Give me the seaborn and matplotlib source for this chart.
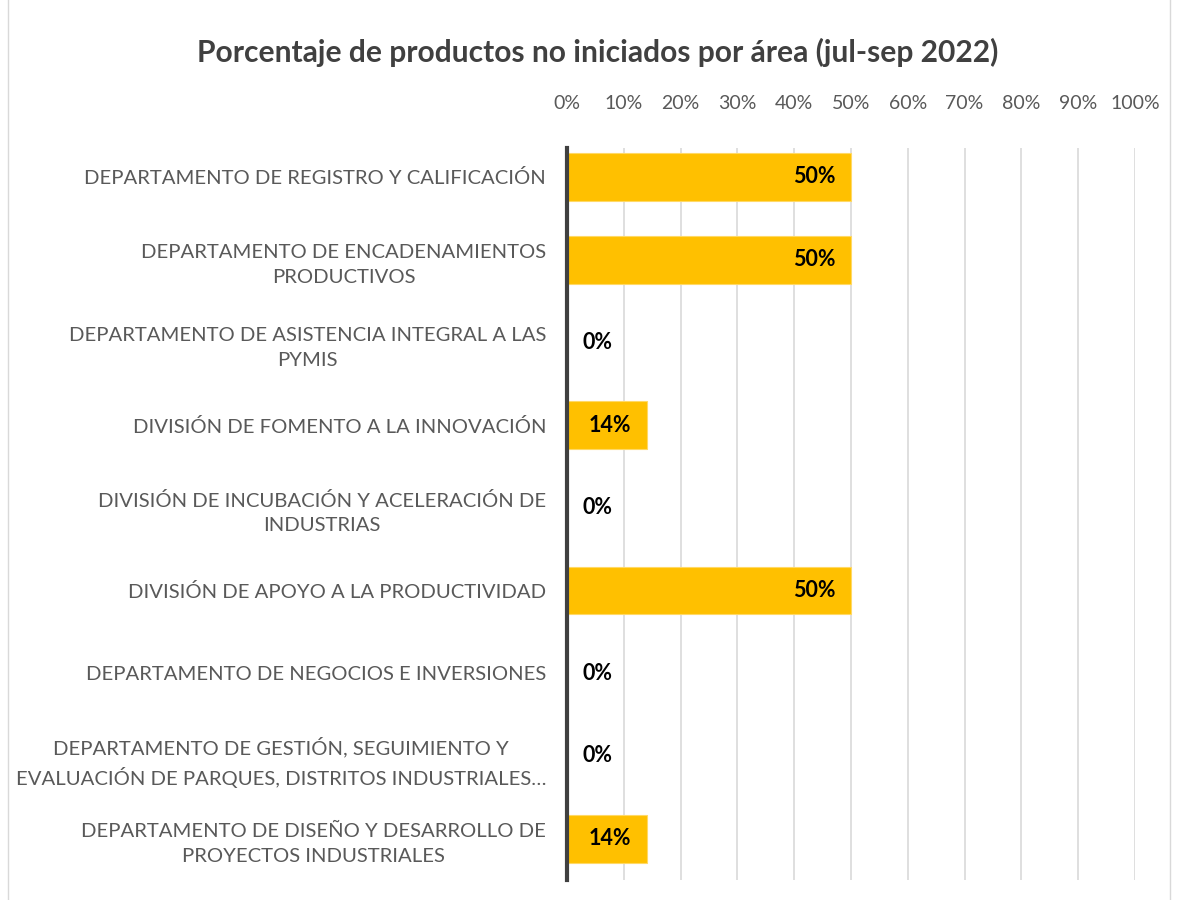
"""
Porcentaje de productos no iniciados por área.
"""

import matplotlib.pyplot as plt
import pandas as pd
import seaborn as sns
from matplotlib.patches import Rectangle
from matplotlib.ticker import PercentFormatter

areas = [
    "DEPARTAMENTO DE REGISTRO Y CALIFICACIÓN",
    "DEPARTAMENTO DE ENCADENAMIENTOS\nPRODUCTIVOS",
    "DEPARTAMENTO DE ASISTENCIA INTEGRAL A LAS\nPYMIS",
    "DIVISIÓN DE FOMENTO A LA INNOVACIÓN",
    "DIVISIÓN DE INCUBACIÓN Y ACELERACIÓN DE\nINDUSTRIAS",
    "DIVISIÓN DE APOYO A LA PRODUCTIVIDAD",
    "DEPARTAMENTO DE NEGOCIOS E INVERSIONES",
    "DEPARTAMENTO DE GESTIÓN, SEGUIMIENTO Y\nEVALUACIÓN DE PARQUES, DISTRITOS INDUSTRIALES…",
    "DEPARTAMENTO DE DISEÑO Y DESARROLLO DE\nPROYECTOS INDUSTRIALES",
]
porcentajes = [50, 50, 0, 14, 0, 50, 0, 0, 14]
etiquetas = ["50%", "50%", "0%", "14%", "0%", "50%", "0%", "0%", "14%"]


def run_plot():

    df = pd.DataFrame({"area": areas, "pct": porcentajes})

    sns.set_style("white")
    plt.rcParams["font.family"] = ["Lato", "DejaVu Sans"]

    fig = plt.figure(figsize=(11.78, 9), dpi=100)
    ax = fig.add_axes([567 / 1178, 20 / 900, 568 / 1178, 732 / 900])

    sns.barplot(
        data=df,
        x="pct",
        y="area",
        color="#FFC000",
        orient="h",
        width=0.58,
        saturation=1,
        edgecolor="#FFD966",
        linewidth=0.8,
        ax=ax,
        zorder=3
    )

    ax.set_xlim(0, 100)
    ax.set_ylim(8.5, -0.35)
    ax.set_xticks(range(0, 101, 10))
    ax.xaxis.set_major_formatter(PercentFormatter(decimals=0))
    ax.xaxis.tick_top()
    ax.tick_params(axis="x", length=0, pad=26, labelsize=14, labelcolor="#595959")
    ax.set_yticks(range(len(areas)))
    ax.set_yticklabels(areas, multialignment="center", linespacing=1.55)
    ax.tick_params(axis="y", length=0, pad=15, labelsize=14.6, labelcolor="#595959")

    ax.grid(axis="x", color="#D9D9D9", linewidth=1.2, zorder=0)
    ax.set_xlabel("")
    ax.set_ylabel("")

    for side in ["top", "right", "bottom"]:
        ax.spines[side].set_visible(False)
    ax.spines["left"].set_color("#404040")
    ax.spines["left"].set_linewidth(3)
    ax.spines["left"].set_zorder(4)

    for i, (v, t) in enumerate(zip(porcentajes, etiquetas)):
        if v > 0:
            ax.text(v - 2.8, i, t, ha="right", va="center",
                    fontsize=15.5, fontweight="bold", color="black", zorder=5)
        else:
            ax.text(2.8, i, t, ha="left", va="center",
                    fontsize=15.5, fontweight="bold", color="black", zorder=5)

    fig.text(598 / 1178, 1 - 52 / 900,
             "Porcentaje de productos no iniciados por área (jul-sep 2022)",
             ha="center", va="center", fontsize=21.6, fontweight="bold",
             color="#404040")

    fig.patches.append(Rectangle(
        (8 / 1178, -0.01), 1162 / 1178, 1.02,
        transform=fig.transFigure, fill=False,
        edgecolor="#D9D9D9", linewidth=1
    ))

    fig.savefig("out.png", dpi=100)


if __name__ == "__main__":
    run_plot()
